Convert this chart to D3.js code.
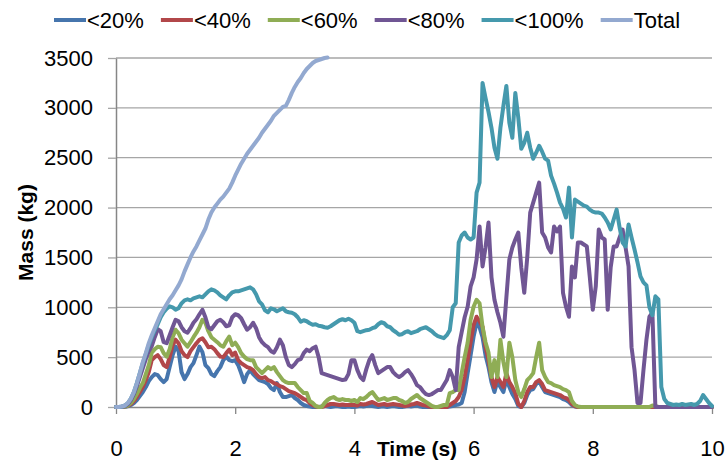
<!DOCTYPE html>
<html>
<head>
<meta charset="utf-8">
<script src="https://cdn.jsdelivr.net/npm/d3@7"></script>
<style>
  body { margin: 0; background: #fff; }
  svg { display: block; }
  text { font-family: "Liberation Sans", Arial, sans-serif; fill: #000; }
</style>
</head>
<body>
<div id="chart"></div>
<script>
// series names + colours, Excel style
var seriesNames = ["<20%", "<40%", "<60%", "<80%", "<100%", "Total"];
var seriesColors = ["#4675ad", "#b2474a", "#8fad55", "#705694", "#4599ad", "#93a9d0"];

// samples every 0.05 s from t = 0 (kg)
var step = 0.05;

var under20 = [
  0,0,1,3,8,20,40,70,110,150,200,260,300,330,320,280,250,280,400,520,
  605,560,350,280,330,400,440,520,605,550,420,390,330,310,360,400,470,505,470,460,
  470,420,340,250,330,370,330,300,270,260,250,230,190,170,240,150,100,100,110,120,
  90,70,40,20,10,5,0,0,0,5,10,5,0,5,10,5,0,0,5,0,
  0,5,10,5,10,15,10,5,0,5,5,0,5,10,5,0,0,5,10,5,
  10,15,5,0,0,0,0,0,0,0,0,0,5,10,20,25,40,150,340,520,
  705,845,800,700,520,400,250,150,260,200,150,280,200,130,80,10,0,40,120,170,
  180,230,260,200,150,140,130,120,110,100,80,70,50,20,5,0,0,0,0,0,
  0,0,0,0,0,0,0,0,0,0,0,0,0,0,0,0,0,0,0,0,
  0,0,0,0,0,0,0,0,0,0,0,0,0,0,0,0,0,0,0,0,
  0
];

var under40 = [
  0,0,2,5,12,30,60,100,150,200,270,350,470,500,520,480,420,400,500,620,
  675,640,560,520,500,560,600,640,675,690,650,600,605,580,540,505,500,540,575,520,
  545,470,440,420,400,390,370,330,300,290,300,270,260,240,230,210,200,180,160,150,
  140,120,100,80,70,40,20,5,0,0,10,20,30,30,25,20,25,20,20,20,
  20,15,30,25,30,40,50,35,20,25,30,20,25,30,25,20,15,10,15,25,
  30,40,30,20,15,5,0,0,0,0,0,0,20,40,60,100,170,300,470,650,
  820,905,860,805,600,470,300,200,300,250,200,340,250,200,140,30,0,60,150,200,
  200,250,270,230,170,160,150,140,130,120,100,90,70,30,10,0,0,0,0,0,
  0,0,0,0,0,0,0,0,0,0,0,0,0,0,0,0,0,0,0,0,
  0,0,0,0,0,0,0,0,0,0,0,0,0,0,0,0,0,0,0,0,
  0
];

var under60 = [
  0,0,2,5,15,40,80,130,190,240,330,420,545,580,605,600,540,505,580,700,
  775,740,675,640,605,650,700,745,800,875,845,760,700,675,650,620,605,660,705,620,
  645,600,540,505,480,470,470,400,370,340,370,400,380,400,350,310,270,250,240,240,
  240,200,170,140,140,60,40,10,0,0,40,70,90,100,80,70,80,70,70,60,
  70,50,90,80,100,130,150,110,70,80,90,70,80,90,90,70,60,40,50,80,
  100,120,90,70,50,30,10,0,0,10,20,20,140,150,170,170,340,500,645,875,
  1005,1075,1040,805,650,545,300,470,300,675,450,300,645,500,270,150,100,180,270,300,
  340,500,645,370,300,250,240,220,210,200,180,170,150,60,20,5,0,0,0,0,
  0,0,0,0,0,0,0,0,0,0,0,0,0,0,0,0,0,0,0,0,
  15,10,0,0,0,0,0,0,0,0,0,0,0,0,0,0,0,0,0,0,
  0
];

var under80 = [
  0,0,3,10,30,70,130,210,300,390,480,560,610,700,780,760,650,640,720,800,
  875,860,800,760,745,790,845,880,930,975,900,800,780,820,860,875,850,810,820,900,
  930,920,890,830,775,800,845,790,700,650,620,600,560,545,600,675,620,500,420,400,
  430,470,480,540,575,560,590,605,500,340,330,320,310,300,290,280,270,275,330,470,
  470,370,300,270,380,470,520,420,340,360,380,400,400,350,320,300,320,350,370,330,
  280,220,200,160,130,120,130,150,170,170,220,270,370,300,170,600,750,900,1005,1210,
  1300,1480,1810,1410,1600,1850,1300,1075,950,845,705,1100,1480,1600,1680,1750,1400,1145,1500,1950,
  2050,2150,2250,1750,1700,1600,1550,1810,1760,1810,1145,1005,905,1410,1300,1650,1650,1630,1610,1300,
  975,1210,1780,1700,1680,975,1400,1610,1610,1700,1780,1600,1410,600,370,40,40,370,675,905,
  945,0,0,0,0,0,0,0,0,0,0,0,0,0,0,0,0,0,0,0,
  0
];

var under100 = [
  0,0,5,15,40,85,150,240,340,440,530,620,700,770,830,900,950,985,1010,1000,
  975,990,1040,1070,1080,1070,1090,1100,1110,1100,1130,1160,1180,1170,1150,1120,1100,1080,1120,1150,
  1160,1160,1170,1180,1190,1200,1180,1130,1060,1030,970,950,990,980,960,975,990,960,950,945,
  930,900,855,870,860,840,825,830,815,810,800,795,810,830,850,870,880,870,885,870,
  845,760,750,760,770,775,790,800,830,850,840,810,800,770,750,725,730,750,760,740,
  750,760,780,790,800,780,760,730,710,700,690,720,770,1000,1040,1650,1720,1750,1700,1680,
  1700,2150,2250,3250,3100,2960,2800,2600,2490,2800,3020,3220,2850,2700,3150,2900,2590,2650,2750,2600,
  2490,2550,2620,2560,2490,2470,2320,2240,2150,2050,1990,1900,2200,1700,2080,2060,2040,2020,2010,1980,
  1960,1950,1950,1940,1900,1850,1780,1880,1980,1800,1650,1610,1830,1700,1580,1450,1310,1250,1220,1000,
  920,1110,1080,200,80,40,30,20,25,20,30,20,25,30,20,30,60,120,80,40,
  10
];

// total only shown until it leaves the top of the chart
var total = [
  0,0,5,15,40,85,150,240,340,450,540,640,720,790,860,930,980,1030,1080,1120,
  1170,1220,1280,1360,1430,1500,1560,1610,1670,1730,1790,1880,1950,2000,2040,2080,2110,2150,2190,2250,
  2320,2380,2440,2490,2540,2580,2620,2660,2700,2750,2790,2830,2870,2920,2950,2980,3010,3020,3080,3150,
  3210,3260,3300,3350,3390,3420,3450,3470,3480,3490,3500,3505
];

var xTicks = [0, 2, 4, 6, 8, 10];
var yTicks = [0, 500, 1000, 1500, 2000, 2500, 3000, 3500];

var allSeries = [under20, under40, under60, under80, under100, total];

var W = 727, H = 460;
var svg = d3.select("#chart").append("svg").attr("width", W).attr("height", H);

var x = d3.scaleLinear().domain([0, 10]).range([116, 712]);
var y = d3.scaleLinear().domain([0, 3500]).range([407, 58]);

// horizontal gridlines
svg.append("g").selectAll("line")
  .data(yTicks.slice(1))
  .enter().append("line")
    .attr("x1", x(0)).attr("x2", x(10))
    .attr("y1", function (d) { return y(d); })
    .attr("y2", function (d) { return y(d); })
    .attr("stroke", "#a6a6a6")
    .attr("stroke-width", 1.3);

// y axis
var yAxis = svg.append("g")
  .attr("transform", "translate(" + x(0) + ",0)")
  .call(d3.axisLeft(y).tickValues(yTicks).tickFormat(d3.format("d"))
    .tickSize(8).tickSizeOuter(0).tickPadding(15));
yAxis.select(".domain").attr("stroke", "#868686").attr("stroke-width", 1.5);
yAxis.selectAll(".tick line").attr("stroke", "#a6a6a6").attr("stroke-width", 1.3);
yAxis.selectAll(".tick text").style("font-size", "22px").attr("fill", "#000");

// x axis
var xAxis = svg.append("g")
  .attr("transform", "translate(0," + y(0) + ")")
  .call(d3.axisBottom(x).tickValues(xTicks).tickSize(7).tickSizeOuter(0).tickPadding(26));
xAxis.select(".domain").attr("stroke", "#868686").attr("stroke-width", 1.5);
xAxis.selectAll(".tick line").attr("stroke", "#868686").attr("stroke-width", 1.3);
xAxis.selectAll(".tick text").style("font-size", "22px").attr("fill", "#000");

// series lines, first series drawn first (underneath)
var line = d3.line()
  .x(function (d, i) { return x(i * step); })
  .y(function (d) { return y(d); });

svg.append("g").selectAll("path")
  .data(allSeries)
  .enter().append("path")
    .attr("d", line)
    .attr("fill", "none")
    .attr("stroke", function (d, i) { return seriesColors[i]; })
    .attr("stroke-width", 4)
    .attr("stroke-linejoin", "round")
    .attr("stroke-linecap", "round");

// axis titles
svg.append("text")
  .attr("transform", "translate(33," + ((y(0) + y(3500)) / 2) + ") rotate(-90)")
  .attr("text-anchor", "middle")
  .style("font-size", "21px")
  .style("font-weight", "bold")
  .text("Mass (kg)");

svg.append("text")
  .attr("x", 417)
  .attr("y", 456)
  .attr("text-anchor", "middle")
  .style("font-size", "21px")
  .style("font-weight", "bold")
  .text("Time (s)");

// legend across the top
var legend = svg.append("g");
var lx = 54;
seriesNames.forEach(function (name, i) {
  legend.append("line")
    .attr("x1", lx).attr("x2", lx + 32)
    .attr("y1", 20).attr("y2", 20)
    .attr("stroke", seriesColors[i])
    .attr("stroke-width", 4);
  var t = legend.append("text")
    .attr("x", lx + 33)
    .attr("y", 20)
    .attr("dy", "0.35em")
    .style("font-size", "22px")
    .text(name);
  lx += 33 + t.node().getComputedTextLength() + 17;
});
</script>
</body>
</html>
